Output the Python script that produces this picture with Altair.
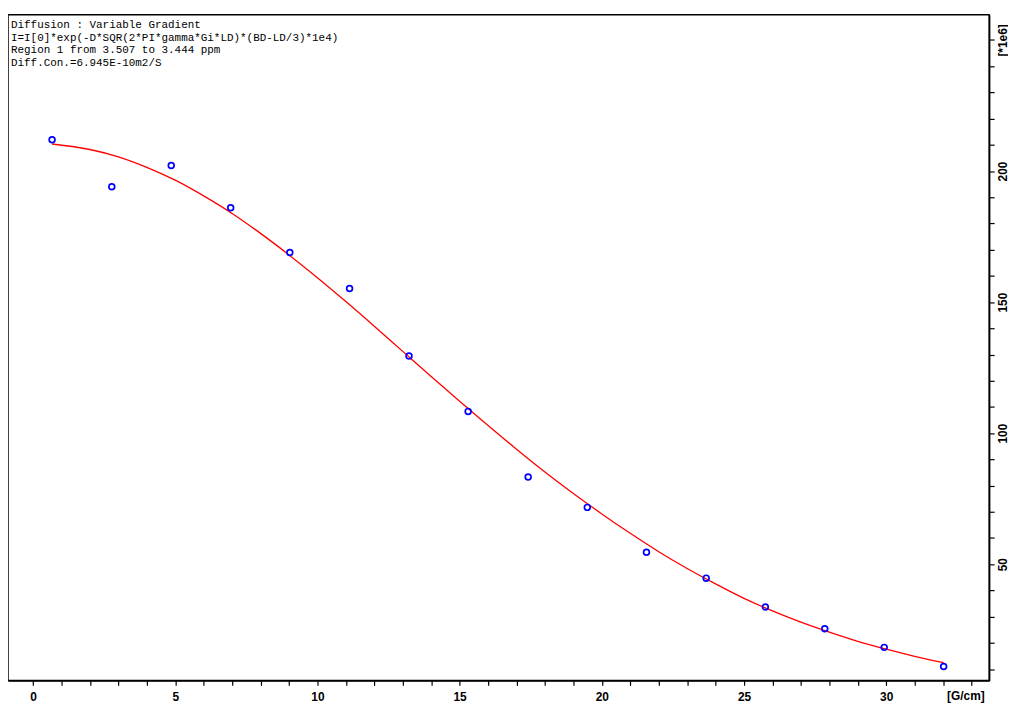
import altair as alt
import pandas as pd

# Measured points (gradient strength in G/cm, intensity in 1e6 units)
gradient = [0.67, 2.77, 4.86, 6.95, 9.03, 11.13, 13.22, 15.30, 17.41, 19.49,
            21.57, 23.67, 25.75, 27.84, 29.93, 32.02]
intensity = [211.9, 194.0, 202.1, 186.0, 168.9, 155.2, 129.4, 108.3, 83.3, 71.7,
             54.6, 44.7, 33.7, 25.4, 18.3, 11.0]

# Fitted curve
fit_x = [0.67, 2, 3, 4, 5, 6, 7, 8, 9, 10, 11, 12, 13, 14, 15, 16, 17, 18, 19, 20,
         21, 22, 23, 24, 25, 26, 27, 28, 29, 30, 31, 32.02]
fit_y = [210.3, 208.2, 205.4, 201.4, 196.5, 190.5, 183.8, 176.2, 168.0, 159.3,
         150.2, 140.8, 131.2, 121.6, 112.2, 102.9, 93.9, 85.2, 77.0, 69.2,
         61.8, 54.8, 48.4, 42.5, 37.0, 32.2, 27.9, 24.1, 20.6, 17.6, 14.9, 12.5]

x_ticks = list(range(0, 34))
y_ticks = list(range(10, 251, 10))

info_lines = [
    "Diffusion : Variable Gradient",
    "I=I[0]*exp(-D*SQR(2*PI*gamma*Gi*LD)*(BD-LD/3)*1e4)",
    "Region 1 from 3.507 to 3.444 ppm",
    "Diff.Con.=6.945E-10m2/S",
]
x_unit = "[G/cm]"
y_unit = "[*1e6]"

W, H = 989, 671
x_dom = [-0.88, 33.62]
y_dom = [5.7, 259.6]

pts = pd.DataFrame({"g": gradient, "i": intensity})
fit = pd.DataFrame({"g": fit_x, "i": fit_y})

xs = alt.Scale(domain=x_dom, nice=False, zero=False)
ys = alt.Scale(domain=y_dom, nice=False, zero=False)

lab_font = "Liberation Sans"

x_axis = alt.Axis(
    orient="bottom", values=x_ticks, title=None, grid=False,
    labelExpr="datum.value % 5 === 0 ? datum.label : ''",
    domainColor="black", domainWidth=1.5, tickColor="black", tickWidth=1.2,
    tickSize=5, labelPadding=6, labelFont=lab_font, labelFontWeight="bold",
    labelFontSize=12, labelColor="black", labelFlush=False, labelOverlap=False,
)
y_axis = alt.Axis(
    orient="right", values=y_ticks, title=None, grid=False,
    labelExpr=f"datum.value === 250 ? '{y_unit}' : (datum.value % 50 === 0 ? datum.label : '')",
    domainColor="black", domainWidth=1.5, tickColor="black", tickWidth=1.2,
    tickSize=5, labelPadding=3, labelAngle=270, labelAlign="center",
    labelBaseline="top", labelFont=lab_font, labelFontWeight="bold",
    labelFontSize=12, labelColor="black", labelFlush=False, labelOverlap=False,
)

X = alt.X("g:Q", scale=xs, axis=x_axis)
Y = alt.Y("i:Q", scale=ys, axis=y_axis)

curve = alt.Chart(fit).mark_line(
    color="#ff0000", strokeWidth=1.3, interpolate="monotone"
).encode(x=X, y=Y)

points = alt.Chart(pts).mark_point(
    shape="circle", filled=False, color="#0000ff", size=34, strokeWidth=1.7,
    opacity=1,
).encode(x=X, y=Y)

info = alt.Chart(pd.DataFrame({"t": [0]})).mark_text(
    text=info_lines, align="left", baseline="top", font="Liberation Mono",
    fontSize=11, lineHeight=13, color="black",
).encode(x=alt.value(3), y=alt.value(4))

xunit = alt.Chart(pd.DataFrame({"g": [32.8], "t": [x_unit]})).mark_text(
    align="center", baseline="top", font=lab_font, fontWeight="bold",
    fontSize=12, color="black",
).encode(
    x=X,
    y=alt.value(H + 11),
    text="t:N",
)

chart = alt.layer(curve, points, info, xunit).properties(
    width=W, height=H,
    autosize=alt.AutoSizeParams(type="none"),
    padding={"left": 0, "top": 4, "right": 19, "bottom": 22},
    background="white",
).configure_view(
    stroke="black", strokeWidth=1.5
).configure_axis(labelOverlap=False)

chart.save("out.html", embed_options={"renderer": "svg", "actions": False})
